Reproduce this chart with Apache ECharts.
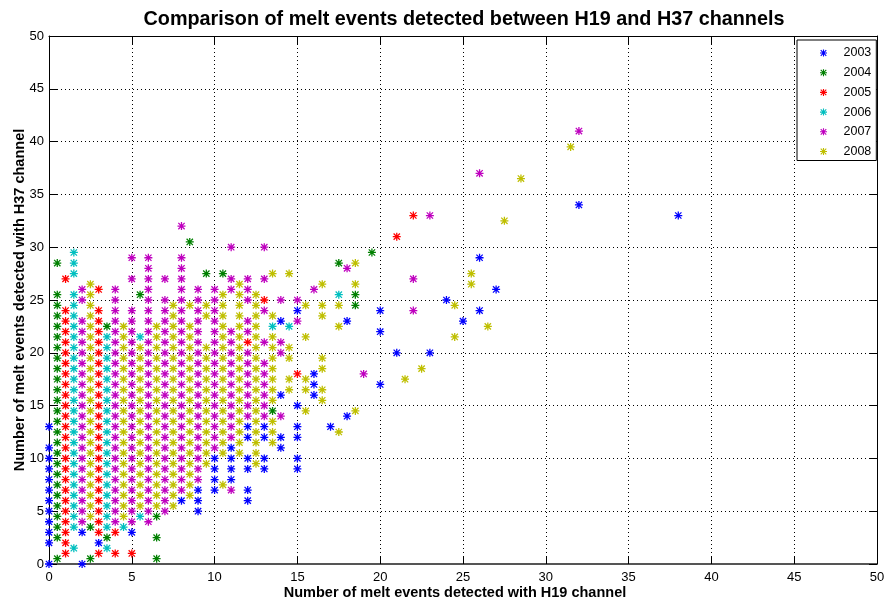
<!DOCTYPE html>
<html>
<head>
<meta charset="utf-8">
<script src="https://cdn.jsdelivr.net/npm/echarts@6/dist/echarts.min.js"></script>
<style>
  html, body { margin: 0; padding: 0; background: #fff; }
  #chart { width: 887px; height: 605px; }
</style>
</head>
<body>
<div id="chart"></div>
<script>
// Melt-event counts per pixel: each entry is [H19 count, [H37 counts at that H19 count]]
const years = ['2003', '2004', '2005', '2006', '2007', '2008'];

const melt2003 = [
  [0, [0, 2, 3, 4, 5, 6, 7, 8, 9, 10, 11, 13]],
  [2, [0, 3]],
  [3, [2]],
  [5, [3]],
  [8, [6]],
  [9, [5, 6, 7]],
  [10, [7, 8, 9, 10]],
  [11, [8, 9, 10, 11]],
  [12, [6, 7, 9, 10, 12, 13]],
  [13, [9, 10, 12, 13]],
  [14, [11, 12, 16, 23]],
  [15, [9, 10, 12, 13, 15, 24]],
  [16, [16, 17, 18]],
  [17, [13]],
  [18, [14, 23]],
  [20, [17, 22, 24]],
  [21, [20]],
  [23, [20]],
  [24, [25]],
  [25, [23]],
  [26, [24, 29]],
  [27, [26]],
  [32, [34]],
  [38, [33]]
];

const melt2004 = [
  [0.5, [0.5, 2.5, 3.5, 4.5, 5.5, 6.5, 7.5, 8.5, 9.5, 10.5, 11.5, 12.5, 13.5, 14.5, 15.5, 16.5, 17.5, 18.5, 19.5, 20.5, 21.5, 22.5, 23.5, 24.5, 25.5, 28.5]],
  [2.5, [0.5, 3.5]],
  [3.5, [2.5, 22.5]],
  [5.5, [25.5]],
  [6.5, [0.5, 2.5, 4.5]],
  [8.5, [30.5]],
  [9.5, [27.5]],
  [10.5, [27.5]],
  [13.5, [14.5]],
  [17.5, [28.5]],
  [18.5, [24.5, 25.5]],
  [19.5, [29.5]]
];

const melt2005 = [
  [1, [1, 2, 3, 4, 5, 6, 7, 8, 9, 10, 11, 12, 13, 14, 15, 16, 17, 18, 19, 20, 21, 22, 23, 24, 27]],
  [3, [1, 3, 4, 5, 6, 7, 8, 9, 10, 11, 12, 13, 14, 15, 16, 17, 18, 19, 20, 21, 22, 23, 24, 26]],
  [4, [1, 3]],
  [5, [1]],
  [12, [21]],
  [13, [25]],
  [15, [18]],
  [21, [31]],
  [22, [33]]
];

const melt2006 = [
  [1.5, [1.5, 3.5, 4.5, 5.5, 6.5, 7.5, 8.5, 9.5, 10.5, 11.5, 12.5, 13.5, 14.5, 15.5, 16.5, 17.5, 18.5, 19.5, 20.5, 21.5, 22.5, 23.5, 24.5, 25.5, 27.5, 28.5, 29.5]],
  [3.5, [1.5, 3.5, 4.5, 5.5, 6.5, 7.5, 8.5, 9.5, 10.5, 11.5, 12.5, 13.5, 14.5, 15.5, 16.5, 17.5, 18.5, 19.5, 20.5, 21.5]],
  [4.5, [3.5]],
  [5.5, [4.5, 21.5]],
  [13.5, [22.5]],
  [14.5, [22.5]],
  [17.5, [25.5]]
];

const melt2007 = [
  [2, [4, 5, 6, 7, 8, 9, 10, 11, 12, 13, 14, 15, 16, 17, 18, 19, 20, 21, 22, 23, 25, 26]],
  [4, [4, 5, 6, 7, 8, 9, 10, 11, 12, 13, 14, 15, 16, 17, 18, 19, 20, 21, 22, 23, 24, 25, 26]],
  [5, [4, 5, 6, 7, 8, 9, 10, 11, 12, 13, 14, 15, 16, 17, 18, 19, 20, 21, 22, 23, 24, 27, 29]],
  [6, [4, 5, 6, 7, 8, 9, 10, 11, 12, 13, 14, 15, 16, 17, 18, 19, 20, 21, 22, 23, 24, 25, 26, 27, 28, 29]],
  [7, [5, 6, 7, 8, 9, 10, 11, 12, 13, 14, 15, 16, 17, 18, 19, 20, 21, 22, 23, 24, 25, 27]],
  [8, [7, 8, 9, 10, 11, 12, 13, 14, 15, 16, 17, 18, 19, 20, 21, 22, 23, 24, 25, 26, 27, 28, 29, 32]],
  [9, [8, 9, 10, 11, 12, 13, 14, 15, 16, 17, 18, 19, 20, 21, 22, 23, 24, 25, 26]],
  [10, [11, 12, 13, 14, 15, 16, 17, 18, 19, 20, 21, 22, 23, 24, 25, 26]],
  [11, [7, 12, 13, 14, 15, 16, 17, 18, 19, 20, 21, 22, 26, 27, 30]],
  [12, [14, 15, 16, 17, 18, 19, 20, 22, 23, 25, 26, 27]],
  [13, [14, 15, 16, 17, 18, 19, 21, 24, 27, 30]],
  [14, [14, 20, 21, 25]],
  [15, [23, 25]],
  [16, [26]],
  [18, [28]],
  [19, [18]],
  [22, [24, 27]],
  [23, [33]],
  [26, [37]],
  [32, [41]]
];

const melt2008 = [
  [2.5, [4.5, 5.5, 6.5, 7.5, 8.5, 9.5, 10.5, 11.5, 12.5, 13.5, 14.5, 15.5, 16.5, 17.5, 18.5, 19.5, 20.5, 21.5, 22.5, 23.5, 24.5, 25.5, 26.5]],
  [4.5, [4.5, 5.5, 6.5, 7.5, 8.5, 9.5, 10.5, 11.5, 12.5, 13.5, 14.5, 15.5, 16.5, 17.5, 18.5, 19.5, 20.5, 21.5, 22.5]],
  [5.5, [5.5, 6.5, 7.5, 8.5, 9.5, 10.5, 11.5, 12.5, 13.5, 14.5, 15.5, 16.5, 17.5, 18.5, 19.5, 20.5]],
  [6.5, [5.5, 6.5, 7.5, 8.5, 9.5, 10.5, 11.5, 12.5, 13.5, 14.5, 15.5, 16.5, 17.5, 18.5, 19.5, 20.5, 21.5, 22.5]],
  [7.5, [5.5, 6.5, 7.5, 8.5, 9.5, 10.5, 11.5, 12.5, 13.5, 14.5, 15.5, 16.5, 17.5, 18.5, 19.5, 20.5, 21.5, 22.5, 23.5, 24.5]],
  [8.5, [6.5, 7.5, 8.5, 9.5, 10.5, 11.5, 12.5, 13.5, 14.5, 15.5, 16.5, 17.5, 18.5, 19.5, 20.5, 21.5, 22.5, 24.5]],
  [9.5, [9.5, 10.5, 11.5, 12.5, 13.5, 14.5, 15.5, 16.5, 17.5, 18.5, 19.5, 20.5, 23.5, 24.5]],
  [10.5, [7.5, 10.5, 11.5, 12.5, 13.5, 14.5, 15.5, 16.5, 17.5, 18.5, 19.5, 20.5, 21.5, 22.5, 23.5, 24.5, 25.5]],
  [11.5, [10.5, 11.5, 12.5, 13.5, 14.5, 15.5, 16.5, 17.5, 18.5, 19.5, 20.5, 21.5, 22.5, 23.5, 24.5, 25.5, 26.5]],
  [12.5, [9.5, 10.5, 11.5, 12.5, 13.5, 14.5, 15.5, 16.5, 17.5, 18.5, 19.5, 20.5, 21.5, 22.5, 23.5, 24.5, 25.5]],
  [13.5, [11.5, 12.5, 13.5, 15.5, 16.5, 17.5, 18.5, 19.5, 20.5, 21.5, 23.5, 27.5]],
  [14.5, [16.5, 17.5, 19.5, 20.5, 27.5]],
  [15.5, [14.5, 16.5, 17.5, 21.5, 24.5]],
  [16.5, [15.5, 16.5, 18.5, 19.5, 23.5, 24.5, 26.5]],
  [17.5, [12.5, 22.5, 24.5]],
  [18.5, [14.5, 26.5, 28.5]],
  [21.5, [17.5]],
  [22.5, [18.5]],
  [24.5, [21.5, 24.5]],
  [25.5, [26.5, 27.5]],
  [26.5, [22.5]],
  [27.5, [32.5]],
  [28.5, [36.5]],
  [31.5, [39.5]]
];

const yearColors = ['#0000ff', '#008000', '#ff0000', '#00bfbf', '#bf00bf', '#bfbf00'];

// Pair each H19 count with its list of H37 counts
function toPoints(cols) {
  const out = [];
  cols.forEach(([x, ys]) => ys.forEach(y => out.push([x, y])));
  return out;
}

const yearData = [melt2003, melt2004, melt2005, melt2006, melt2007, melt2008].map(toPoints);

// Asterisk marker (plus sign overlaid with a cross)
const STAR = 'path://M4.2,0H5.8V10H4.2Z M0,4.2H10V5.8H0Z M1.6,0.5L9.5,8.4L8.4,9.5L0.5,1.6Z M8.4,0.5L9.5,1.6L1.6,9.5L0.5,8.4Z';

const FONT = 'Liberation Sans, Arial, Helvetica, sans-serif';

const chart = echarts.init(document.getElementById('chart'), null, { renderer: 'canvas' });

const gridLine = { show: true, lineStyle: { color: '#000', width: 1, type: [1, 3] } };

chart.setOption({
  animation: false,
  backgroundColor: '#fff',
  title: {
    text: 'Comparison of melt events detected between H19 and H37 channels',
    left: 459,
    top: 5,
    textAlign: 'center',
    textStyle: { fontFamily: FONT, fontWeight: 'bold', fontSize: 19.8, color: '#000' }
  },
  grid: { left: 49, top: 36, width: 828, height: 528, containLabel: false, outerBoundsMode: 'none' },
  legend: {
    orient: 'vertical',
    left: 797,
    top: 40,
    padding: [6, 5, 2, 23],
    itemWidth: 30,
    itemHeight: 7,
    itemGap: 5.7,
    icon: STAR,
    backgroundColor: '#fff',
    borderColor: '#000',
    borderWidth: 1,
    borderRadius: 0,
    textStyle: { fontFamily: FONT, fontSize: 12.5, color: '#000', lineHeight: 14 },
    data: years
  },
  xAxis: [
    {
      type: 'value', min: 0, max: 50, interval: 5, position: 'bottom',
      axisLine: { onZero: false, lineStyle: { color: '#555', width: 2 } },
      axisTick: { inside: true, length: 8, lineStyle: { color: '#000' } },
      axisLabel: { margin: 7, fontFamily: FONT, fontSize: 13, color: '#000' },
      splitLine: gridLine,
      name: 'Number of melt events detected with H19 channel',
      nameLocation: 'middle',
      nameGap: 21,
      nameMoveOverlap: false,
      nameTextStyle: { fontFamily: FONT, fontWeight: 'bold', fontSize: 14.5, color: '#000', padding: [0, 16, 0, 0] }
    },
    {
      type: 'value', min: 0, max: 50, interval: 5, position: 'top',
      axisLine: { onZero: false, lineStyle: { color: '#000', width: 1 } },
      axisTick: { inside: true, length: 8, lineStyle: { color: '#000' } },
      axisLabel: { show: false },
      splitLine: { show: false }
    }
  ],
  yAxis: [
    {
      type: 'value', min: 0, max: 50, interval: 5, position: 'left',
      axisLine: { onZero: false, lineStyle: { color: '#000', width: 1 } },
      axisTick: { inside: true, length: 8, lineStyle: { color: '#000' } },
      axisLabel: { margin: 5, fontFamily: FONT, fontSize: 13, color: '#000' },
      splitLine: gridLine,
      name: 'Number of melt events detected with H37 channel',
      nameLocation: 'middle',
      nameGap: 22,
      nameMoveOverlap: false,
      nameTextStyle: { fontFamily: FONT, fontWeight: 'bold', fontSize: 14.5, color: '#000' }
    },
    {
      type: 'value', min: 0, max: 50, interval: 5, position: 'right',
      axisLine: { onZero: false, lineStyle: { color: '#000', width: 1 } },
      axisTick: { inside: true, length: 8, lineStyle: { color: '#000' } },
      axisLabel: { show: false },
      splitLine: { show: false }
    }
  ],
  series: years.map((name, i) => ({
    type: 'scatter',
    name: name,
    data: yearData[i],
    symbol: STAR,
    symbolSize: 8,
    itemStyle: { color: yearColors[i], opacity: 1 },
    emphasis: { disabled: true },
    z: 2 + i
  }))
});
</script>
</body>
</html>
